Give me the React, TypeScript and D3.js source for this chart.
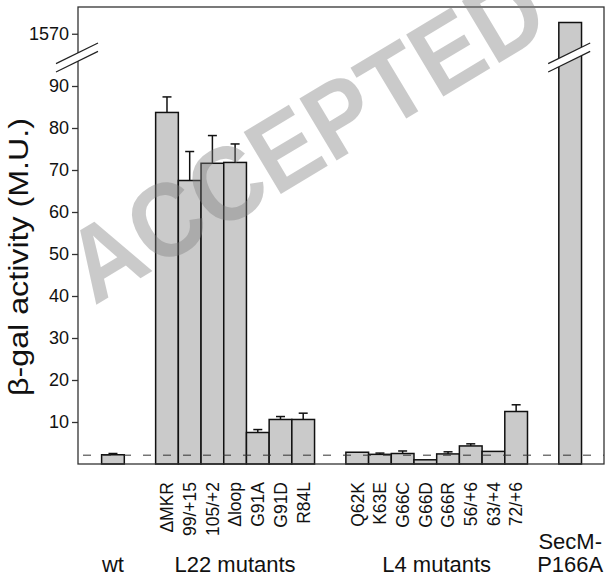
import React, { useEffect, useRef } from 'react';
import * as d3 from 'd3';

// values (M.U.)
const wtLabels = ['wt'];
const wtValues = [2.2];
const wtErrors = [0.3];

const l22Labels = ['ΔMKR', '99/+15', '105/+2', 'Δloop', 'G91A', 'G91D', 'R84L'];
const l22Values = [83.7, 67.5, 71.6, 71.8, 7.5, 10.6, 10.6];
const l22Errors = [3.7, 6.9, 6.6, 4.4, 0.7, 0.7, 1.5];

const l4Labels = ['Q62K', 'K63E', 'G66C', 'G66D', 'G66R', '56/+6', '63/+4', '72/+6'];
const l4Values = [2.8, 2.3, 2.5, 1.0, 2.4, 4.3, 3.0, 12.5];
const l4Errors = [0, 0.3, 0.6, 0, 0.5, 0.5, 0, 1.6];

const secmLabels = ['SecM-P166A'];
const secmValues = [1600];
const secmErrors = [0];

const groupNames = ['wt', 'L22 mutants', 'L4 mutants', 'SecM-|P166A'];
const lowerTicks = [10, 20, 30, 40, 50, 60, 70, 80, 90];
const upperTicks = [1570];
const wtLevel = 2.1;

const font = 'Liberation Sans, Arial, Helvetica, sans-serif';

const App = () => {
  const svgRef = useRef<SVGSVGElement>(null);

  useEffect(() => {
    const width = 605;
    const height = 580;
    const left = 78, right = 604, top = 7, bottom = 464;

    const svg = d3.select(svgRef.current)
      .attr('width', width)
      .attr('height', height);
    svg.selectAll('*').remove();

    const groups = [
      { name: groupNames[0], labels: wtLabels, values: wtValues, errors: wtErrors, ticks: false },
      { name: groupNames[1], labels: l22Labels, values: l22Values, errors: l22Errors, ticks: true },
      { name: groupNames[2], labels: l4Labels, values: l4Values, errors: l4Errors, ticks: true },
      { name: groupNames[3], labels: secmLabels, values: secmValues, errors: secmErrors, ticks: false },
    ];

    // slot positions: bars touch inside a group, a gap between groups
    const gap = 1.38;
    let pos = 0;
    const bars: any[] = [];
    const groupSpans: any[] = [];
    groups.forEach(g => {
      const start = pos;
      g.labels.forEach((l, i) => {
        bars.push({ label: l, value: g.values[i], err: g.errors[i], slot: pos, tick: g.ticks });
        pos += 1;
      });
      groupSpans.push({ name: g.name, start, end: pos });
      pos += gap;
    });
    const lastSlot = pos - gap;

    const x = d3.scaleLinear().domain([-1.04, lastSlot + 0.99]).range([left, right]);
    const bw = x(1) - x(0);
    const yLow = d3.scaleLinear().domain([0, 90]).range([bottom, 86]);
    const yHigh = d3.scaleLinear().domain([1540, 1620]).range([45, 15]);
    const y = (v: number) => (v > 100 ? yHigh(v) : yLow(v));

    const g = svg.append('g');

    // bars
    g.selectAll('rect.bar')
      .data(bars)
      .enter().append('rect')
      .attr('class', 'bar')
      .attr('x', d => x(d.slot))
      .attr('y', d => y(d.value))
      .attr('width', bw)
      .attr('height', d => bottom - y(d.value))
      .attr('fill', '#cacaca')
      .attr('stroke', '#111')
      .attr('stroke-width', 1.5);

    // error bars
    const eb = bars.filter(d => d.err > 0);
    g.selectAll('line.err')
      .data(eb)
      .enter().append('line')
      .attr('x1', d => x(d.slot + 0.5))
      .attr('x2', d => x(d.slot + 0.5))
      .attr('y1', d => y(d.value))
      .attr('y2', d => y(d.value + d.err))
      .attr('stroke', '#111')
      .attr('stroke-width', 1.5);
    g.selectAll('line.cap')
      .data(eb)
      .enter().append('line')
      .attr('x1', d => x(d.slot + 0.5) - 4.5)
      .attr('x2', d => x(d.slot + 0.5) + 4.5)
      .attr('y1', d => y(d.value + d.err))
      .attr('y2', d => y(d.value + d.err))
      .attr('stroke', '#111')
      .attr('stroke-width', 1.5);

    // dashed wt reference level
    g.append('line')
      .attr('x1', left + 5).attr('x2', right)
      .attr('y1', yLow(wtLevel)).attr('y2', yLow(wtLevel))
      .attr('stroke', '#333')
      .attr('stroke-width', 1)
      .attr('stroke-dasharray', '8 12');

    // frame
    g.append('rect')
      .attr('x', left).attr('y', top)
      .attr('width', right - left).attr('height', bottom - top)
      .attr('fill', 'none')
      .attr('stroke', '#333')
      .attr('stroke-width', 1.3);

    // y axis (broken)
    const axLow = d3.axisLeft(yLow).tickValues(lowerTicks).tickFormat(d3.format('d')).tickSize(6).tickPadding(3).tickSizeOuter(0);
    const axHigh = d3.axisLeft(yHigh).tickValues(upperTicks).tickFormat(d3.format('d')).tickSize(6).tickPadding(3).tickSizeOuter(0);
    [axLow, axHigh].forEach(ax => {
      const a = g.append('g').attr('transform', `translate(${left},0)`).call(ax as any);
      a.select('.domain').remove();
      a.selectAll('line').attr('stroke', '#333').attr('stroke-width', 1.3);
      a.selectAll('text')
        .attr('font-family', font)
        .attr('font-size', 18)
        .attr('fill', '#111');
    });

    // break marks on the axis and on the SecM bar
    const breakY = 57.5;
    const drawBreak = (cx: number) => {
      const hw = 21, sl = 0.49, hg = 4.2;
      g.append('polygon')
        .attr('points', [
          [cx - hw, breakY + hw * sl - hg], [cx + hw, breakY - hw * sl - hg],
          [cx + hw, breakY - hw * sl + hg], [cx - hw, breakY + hw * sl + hg],
        ].map(p => p.join(',')).join(' '))
        .attr('fill', '#fff');
      [-hg, hg].forEach(o => {
        g.append('line')
          .attr('x1', cx - hw).attr('y1', breakY + hw * sl + o)
          .attr('x2', cx + hw).attr('y2', breakY - hw * sl + o)
          .attr('stroke', '#222').attr('stroke-width', 1.2);
      });
    };
    drawBreak(left - 1);
    bars.filter(d => d.value > 100).forEach(d => drawBreak(x(d.slot + 0.5) - 1));

    // rotated category labels
    g.selectAll('text.cat')
      .data(bars.filter(d => d.tick))
      .enter().append('text')
      .attr('transform', d => `translate(${x(d.slot + 0.5) + 6.3},482) rotate(-90)`)
      .attr('text-anchor', 'end')
      .attr('font-family', font)
      .attr('font-size', 17.5)
      .attr('fill', '#111')
      .text(d => d.label);

    // group labels
    groupSpans.forEach(s => {
      const lines = s.name.split('|');
      const cx = x((s.start + s.end) / 2);
      lines.forEach((ln: string, i: number) => {
        g.append('text')
          .attr('x', cx)
          .attr('y', 572 - (lines.length - 1 - i) * 23)
          .attr('text-anchor', 'middle')
          .attr('font-family', font)
          .attr('font-size', 22)
          .attr('fill', '#111')
          .text(ln);
      });
    });

    // y axis title
    g.append('text')
      .attr('transform', 'translate(28,257) rotate(-90)')
      .attr('text-anchor', 'middle')
      .attr('font-family', font)
      .attr('font-size', 28)
      .attr('textLength', 278)
      .attr('lengthAdjust', 'spacingAndGlyphs')
      .attr('fill', '#111')
      .text('β-gal activity (M.U.)');

    // watermark
    g.append('text')
      .attr('transform', 'translate(324,168) rotate(-31)')
      .attr('text-anchor', 'middle')
      .attr('font-family', font)
      .attr('font-weight', 'bold')
      .attr('font-size', 105)
      .attr('textLength', 536)
      .attr('lengthAdjust', 'spacingAndGlyphs')
      .attr('fill', '#7d7d7d')
      .attr('opacity', 0.4)
      .text('ACCEPTED');
  }, []);

  return <svg ref={svgRef} style={{ position: 'absolute', left: 0, top: 0 }}></svg>;
};

export default App;
